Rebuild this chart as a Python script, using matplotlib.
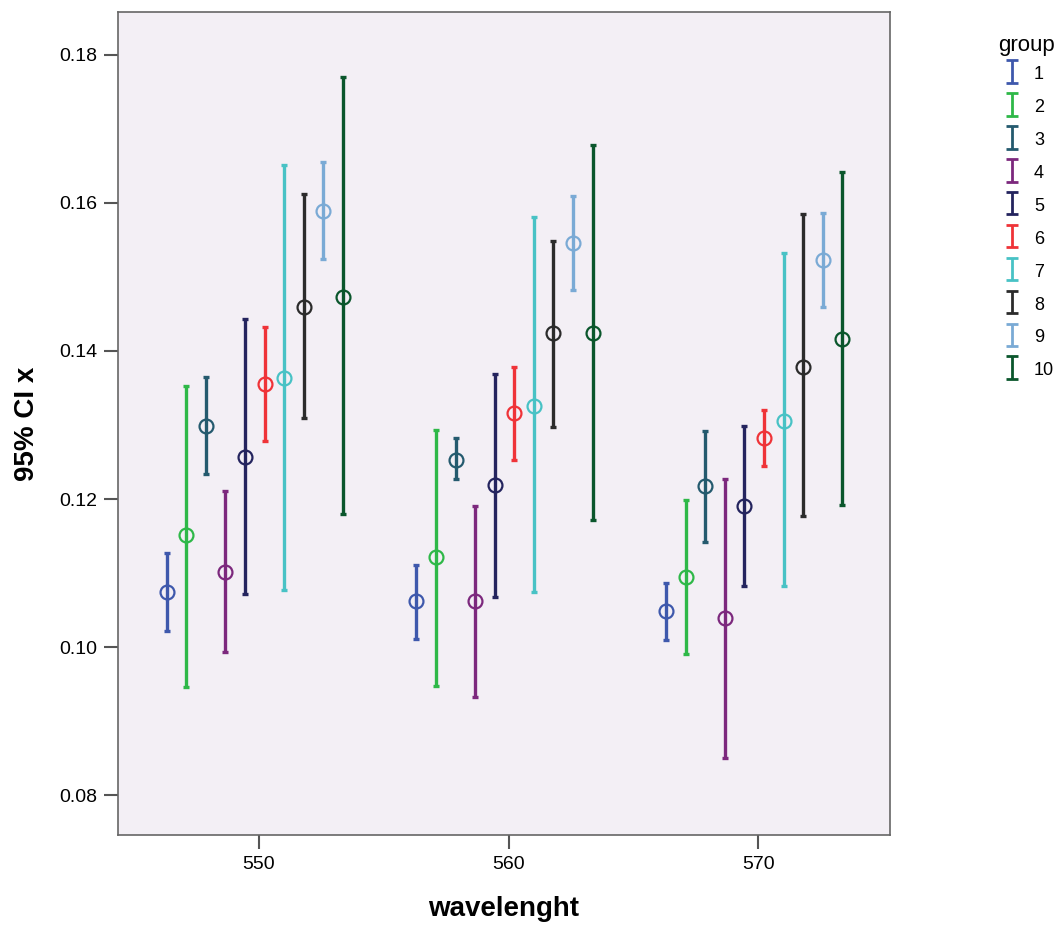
from matplotlib import pyplot as plt
from matplotlib.legend_handler import HandlerErrorbar
from matplotlib.container import ErrorbarContainer
import numpy as np

WAVELENGTHS = [550, 560, 570]
GROUPS = ['1', '2', '3', '4', '5', '6', '7', '8', '9', '10']

# mean, lower, upper for each group at 550 / 560 / 570
MEAN_550 = [0.1074, 0.1151, 0.1299, 0.1102, 0.1257, 0.1356, 0.1363, 0.1459, 0.1589, 0.1473]
LOW_550 = [0.1022, 0.0946, 0.1234, 0.0993, 0.1072, 0.1279, 0.1077, 0.1309, 0.1524, 0.1180]
HIGH_550 = [0.1127, 0.1353, 0.1365, 0.1211, 0.1443, 0.1433, 0.1651, 0.1612, 0.1656, 0.1770]

MEAN_560 = [0.1062, 0.1122, 0.1253, 0.1062, 0.1219, 0.1316, 0.1326, 0.1424, 0.1546, 0.1424]
LOW_560 = [0.1011, 0.0948, 0.1227, 0.0932, 0.1067, 0.1253, 0.1074, 0.1297, 0.1482, 0.1171]
HIGH_560 = [0.1111, 0.1293, 0.1282, 0.1191, 0.1369, 0.1379, 0.1581, 0.1549, 0.1610, 0.1678]

MEAN_570 = [0.1049, 0.1095, 0.1218, 0.1039, 0.1191, 0.1282, 0.1306, 0.1379, 0.1523, 0.1416]
LOW_570 = [0.1010, 0.0991, 0.1142, 0.0850, 0.1082, 0.1245, 0.1082, 0.1177, 0.1459, 0.1192]
HIGH_570 = [0.1086, 0.1199, 0.1292, 0.1227, 0.1299, 0.1320, 0.1532, 0.1585, 0.1587, 0.1642]

COLORS = ['#3e58ac', '#2eb848', '#245a6e', '#7c287d', '#24245e',
          '#ef3338', '#48c2c5', '#2b2b2b', '#7aaad5', '#0a562c']


def main():
    plt.rcParams['font.family'] = ['Liberation Sans', 'DejaVu Sans']

    means = np.array([MEAN_550, MEAN_560, MEAN_570])
    lows = np.array([LOW_550, LOW_560, LOW_570])
    highs = np.array([HIGH_550, HIGH_560, HIGH_570])
    wl = np.array(WAVELENGTHS)

    fig = plt.figure(figsize=(10.62, 9.31), dpi=100)
    ax = fig.add_axes([0.1111, 0.1031, 0.727, 0.884])
    ax.set_facecolor('#f3eff5')

    step = 0.784
    handles = []
    for i, name in enumerate(GROUPS):
        x = wl + (i - 4.5) * step - 0.16
        m = means[:, i]
        err = [m - lows[:, i], highs[:, i] - m]
        ax.errorbar(x, m, yerr=err, fmt='none', ecolor=COLORS[i], elinewidth=2.4,
                    capsize=2.2, capthick=2.4, zorder=2)
        ax.plot(x, m, 'o', ms=10, mfc='none', mec=COLORS[i], mew=1.6, zorder=3)
        # legend proxy with wider caps
        h = ax.errorbar([np.nan], [np.nan], yerr=[[0], [0]], fmt='none', ecolor=COLORS[i],
                        elinewidth=2.0, capsize=4.2, capthick=2.0, label=name)
        handles.append(h)

    ax.set_xlim(544.36, 575.28)
    ax.set_ylim(0.0746, 0.1858)
    ax.set_xticks(WAVELENGTHS)
    ax.set_yticks([0.08, 0.10, 0.12, 0.14, 0.16, 0.18])
    ax.yaxis.set_major_formatter(plt.FormatStrFormatter('%.2f'))
    ax.tick_params(length=10, width=1.5, color='#555555', labelsize=14)
    ax.tick_params(axis='x', pad=5)
    ax.tick_params(axis='y', pad=5)
    for s in ax.spines.values():
        s.set_color('#666666')
        s.set_linewidth(1.2)

    ax.set_xlabel('wavelenght', fontsize=20, fontweight='bold', labelpad=17)
    ax.set_ylabel('95% CI x', fontsize=20, fontweight='bold', labelpad=14)

    fig.text(998 / 1062, 1 - 45 / 931, 'group', fontsize=16, ha='left', va='center')
    fig.legend(handles=handles, loc='upper left',
               bbox_to_anchor=(998 / 1062, 1 - 64 / 931),
               bbox_transform=fig.transFigure,
               handler_map={ErrorbarContainer: HandlerErrorbar(yerr_size=0.62)},
               frameon=False, fontsize=13,
               handlelength=1.5, handleheight=1.2, handletextpad=0.5,
               labelspacing=0.75, borderpad=0, borderaxespad=0)

    fig.savefig('out.png', dpi=100)


if __name__ == '__main__':
    main()
